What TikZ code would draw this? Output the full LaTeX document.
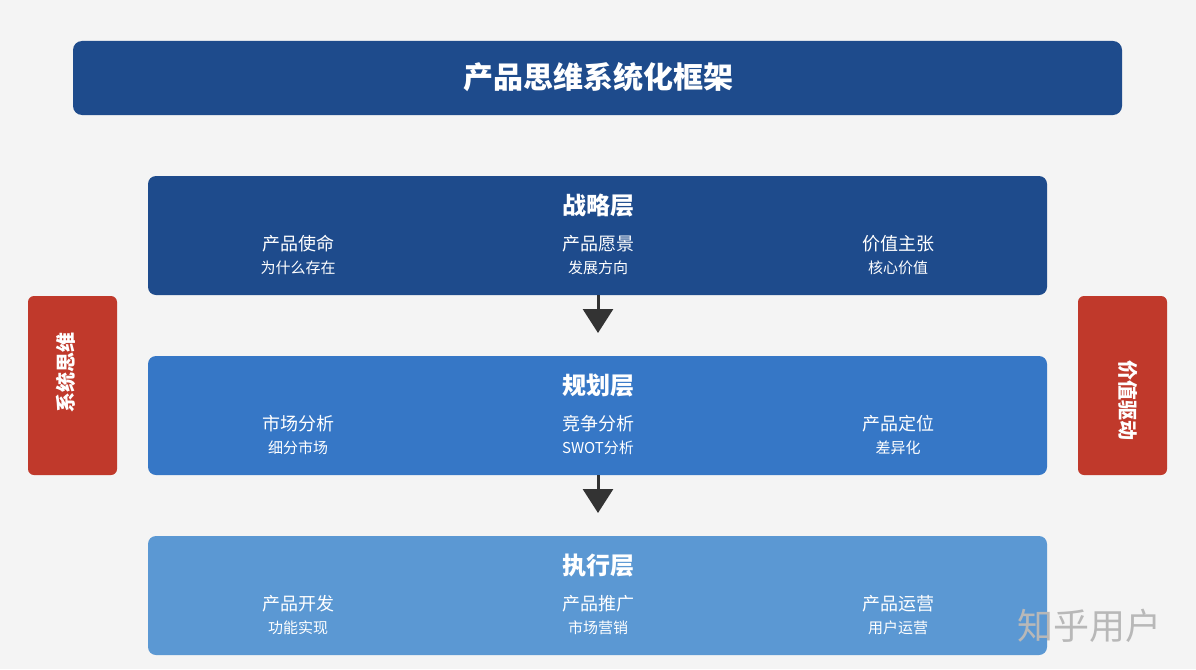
\documentclass[tikz,border=0pt]{standalone}
\usepackage{fontspec}
\setmainfont{Noto Sans CJK SC}
\usetikzlibrary{arrows.meta}
\definecolor{bgc}{HTML}{F4F4F4}
\definecolor{darkb}{HTML}{1E4B8C}
\definecolor{midb}{HTML}{3677C6}
\definecolor{lightb}{HTML}{5B98D3}
\definecolor{redc}{HTML}{C0392B}
\definecolor{arrc}{HTML}{333333}
\tikzset{
  ttl/.style={text=white, font=\fontsize{24pt}{26pt}\selectfont\bfseries},
  itm/.style={text=white, font=\fontsize{18pt}{20pt}\selectfont},
  sub/.style={text=white, font=\fontsize{15pt}{17pt}\selectfont},
  side/.style={text=white, font=\fontsize{20pt}{22pt}\selectfont\bfseries},
  flow/.style={draw=arrc, line width=3pt, -{Triangle[width=30pt,length=24pt]}},
}
\begin{document}
\begin{tikzpicture}[x=1pt,y=-1pt]
\fill[bgc] (0,0) rectangle (1196,669);
\useasboundingbox (0,0) rectangle (1196,669);
% title
\fill[darkb, rounded corners=9pt] (73,41) rectangle (1122,115);
\node[text=white, font=\fontsize{30pt}{32pt}\selectfont\bfseries] (title) at (598,77) {产品思维系统化框架};
% layers
\fill[darkb, rounded corners=8pt] (148,176) rectangle (1047,295);
\fill[midb, rounded corners=8pt] (148,356) rectangle (1047,475);
\fill[lightb, rounded corners=8pt] (148,536) rectangle (1047,655);
\coordinate (l1b) at (598,295);
\coordinate (l2t) at (598,333);
\coordinate (l2b) at (598,475);
\coordinate (l3t) at (598,513);
% layer 1
\node[ttl] (t1) at (598,206) {战略层};
\node[itm] (a1) at (298,244) {产品使命};
\node[sub] (a1s) at (298,268) {为什么存在};
\node[itm] (b1) at (598,244) {产品愿景};
\node[sub] (b1s) at (598,268) {发展方向};
\node[itm] (c1) at (898,244) {价值主张};
\node[sub] (c1s) at (898,268) {核心价值};
% layer 2
\node[ttl] (t2) at (598,386) {规划层};
\node[itm] (a2) at (298,424) {市场分析};
\node[sub] (a2s) at (298,448) {细分市场};
\node[itm] (b2) at (598,424) {竞争分析};
\node[sub] (b2s) at (598,448) {SWOT分析};
\node[itm] (c2) at (898,424) {产品定位};
\node[sub] (c2s) at (898,448) {差异化};
% layer 3
\node[ttl] (t3) at (598,566) {执行层};
\node[itm] (a3) at (298,604) {产品开发};
\node[sub] (a3s) at (298,628) {功能实现};
\node[itm] (b3) at (598,604) {产品推广};
\node[sub] (b3s) at (598,628) {市场营销};
\node[itm] (c3) at (898,604) {产品运营};
\node[sub] (c3s) at (898,628) {用户运营};
% arrows
\draw[flow] (l1b) -- (l2t);
\draw[flow] (l2b) -- (l3t);
% side boxes
\fill[redc, rounded corners=6pt] (28,296) rectangle (117,475);
\fill[redc, rounded corners=6pt] (1078,296) rectangle (1167,475);
\node[side, rotate=90] (ls) at (66,372) {系统思维};
\node[side, rotate=-90] (rs) at (1128,400) {价值驱动};
% watermark
\node[text=black!28, font=\fontsize{36pt}{38pt}\selectfont] (wm) at (1089,626) {知乎用户};
\end{tikzpicture}
\end{document}
